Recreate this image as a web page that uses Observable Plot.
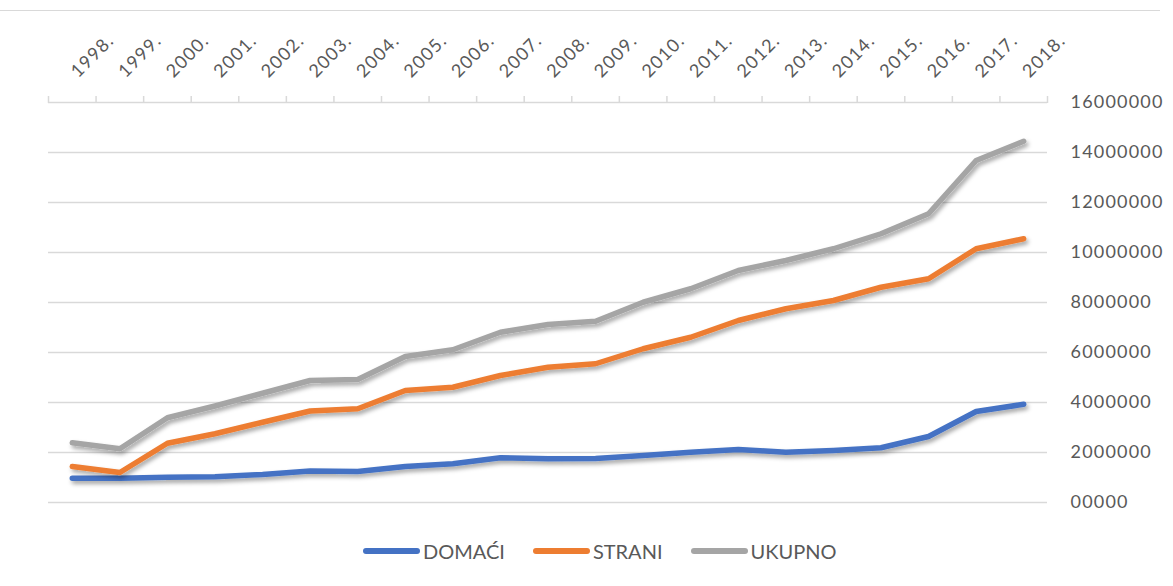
<!DOCTYPE html>
<html>
<head>
<meta charset="utf-8">
<script src="https://cdn.jsdelivr.net/npm/d3@7"></script>
<script src="https://cdn.jsdelivr.net/npm/@observablehq/plot@0.6"></script>
<style>
  body { margin: 0; background: #fff; font-family: Lato, sans-serif; }
  #wrap { position: relative; width: 1173px; height: 586px; overflow: hidden; background: #fff; }
  #topline { position: absolute; left: 0; top: 10px; width: 1160px; height: 0; border-top: 1.5px solid #D9D9D9; }
  #chart { position: absolute; left: 0; top: 0; }
  #legend { position: absolute; left: 363px; top: 539px; height: 24px; display: flex; align-items: center;
            font-family: Lato, sans-serif; font-size: 20px; color: #595959; }
  .item { display: flex; align-items: center; margin-right: 28px; }
  .sw { width: 57px; height: 6px; border-radius: 3px; margin-right: 3px; }
</style>
</head>
<body>
<div id="wrap">
  <div id="topline"></div>
  <div id="chart"></div>
  <div id="legend"></div>
</div>
<script>
// ---- data ----
const years = [1998, 1999, 2000, 2001, 2002, 2003, 2004, 2005, 2006, 2007, 2008, 2009, 2010, 2011, 2012, 2013, 2014, 2015, 2016, 2017, 2018];
const xTickLabels = ["1998.", "1999.", "2000.", "2001.", "2002.", "2003.", "2004.", "2005.", "2006.", "2007.", "2008.", "2009.", "2010.", "2011.", "2012.", "2013.", "2014.", "2015.", "2016.", "2017.", "2018."];
const domaci = [970000, 970000, 1010000, 1030000, 1120000, 1260000, 1240000, 1440000, 1550000, 1790000, 1750000, 1760000, 1880000, 2010000, 2120000, 2010000, 2080000, 2190000, 2640000, 3640000, 3930000];
const strani = [1440000, 1200000, 2370000, 2750000, 3210000, 3660000, 3750000, 4480000, 4610000, 5080000, 5410000, 5550000, 6150000, 6610000, 7280000, 7750000, 8080000, 8610000, 8950000, 10150000, 10550000];
const ukupno = [2390000, 2150000, 3390000, 3860000, 4370000, 4880000, 4920000, 5840000, 6110000, 6810000, 7120000, 7250000, 8010000, 8550000, 9280000, 9680000, 10150000, 10750000, 11550000, 13680000, 14450000];
const seriesNames = ["DOMAĆI", "STRANI", "UKUPNO"];
const seriesColors = ["#4472C4", "#ED7D31", "#A5A5A5"];
const yTicks = [0, 2000000, 4000000, 6000000, 8000000, 10000000, 12000000, 14000000, 16000000];
const yTickLabels = ["00000", "2000000", "4000000", "6000000", "8000000", "10000000", "12000000", "14000000", "16000000"];

// ---- build table ----
const seriesValues = [domaci, strani, ukupno];
const rows = [];
seriesNames.forEach((name, s) => {
  years.forEach((yr, i) => rows.push({ year: yr, value: seriesValues[s][i], series: name }));
});
const yLabelMap = new Map(yTicks.map((t, i) => [t, yTickLabels[i]]));
const xLabelMap = new Map(years.map((y, i) => [y, xTickLabels[i]]));
const boundaries = years.map(y => y - 0.5).concat([years[years.length - 1] + 0.5]);

const svg = Plot.plot({
  width: 1173,
  height: 520,
  marginLeft: 48,
  marginRight: 126,
  marginTop: 102,
  marginBottom: 18,
  style: { fontFamily: "Lato, sans-serif", fontSize: "18px", color: "#595959", background: "transparent", letterSpacing: "1.2px" },
  x: { type: "linear", domain: [years[0] - 0.5, years[years.length - 1] + 0.5], axis: null },
  y: { domain: [0, 16000000], axis: null },
  color: { domain: seriesNames, range: seriesColors },
  marks: [
    Plot.ruleY(yTicks, { stroke: "#D9D9D9", strokeWidth: 1.5 }),
    Plot.axisX({ anchor: "top", ticks: boundaries, tickSize: 7, tickFormat: () => "", label: null, stroke: "#D9D9D9", strokeWidth: 1.5, strokeOpacity: 1 }),
    Plot.text(years, {
      x: d => d, text: d => xLabelMap.get(d), frameAnchor: "top",
      dy: -24, dx: 6, rotate: -45, textAnchor: "start", lineAnchor: "bottom",
      fontSize: 18, fill: "#595959"
    }),
    Plot.axisY({ anchor: "right", ticks: yTicks, tickSize: 0, tickPadding: 23, tickFormat: d => yLabelMap.get(d), label: null, fontSize: 18, fill: "#595959" }),
    Plot.line(rows, { x: "year", y: "value", z: "series", stroke: "series", strokeWidth: 5.5, strokeLinecap: "round", strokeLinejoin: "round" })
  ]
});

// soft drop shadow on the series lines (Excel style)
const s = d3.select(svg);
const defs = s.insert("defs", ":first-child");
const f = defs.append("filter").attr("id", "shadow").attr("filterUnits", "userSpaceOnUse")
  .attr("x", 0).attr("y", 0).attr("width", 1173).attr("height", 520);
f.append("feDropShadow").attr("dx", 2).attr("dy", 3).attr("stdDeviation", 2)
  .attr("flood-color", "#000").attr("flood-opacity", 0.35);
s.selectAll('g[aria-label="line"] path').attr("filter", "url(#shadow)");

document.getElementById("chart").appendChild(svg);

// legend
const legend = d3.select("#legend");
seriesNames.forEach((name, i) => {
  const it = legend.append("div").attr("class", "item");
  it.append("div").attr("class", "sw").style("background", seriesColors[i]);
  it.append("span").text(name);
});
</script>
</body>
</html>
